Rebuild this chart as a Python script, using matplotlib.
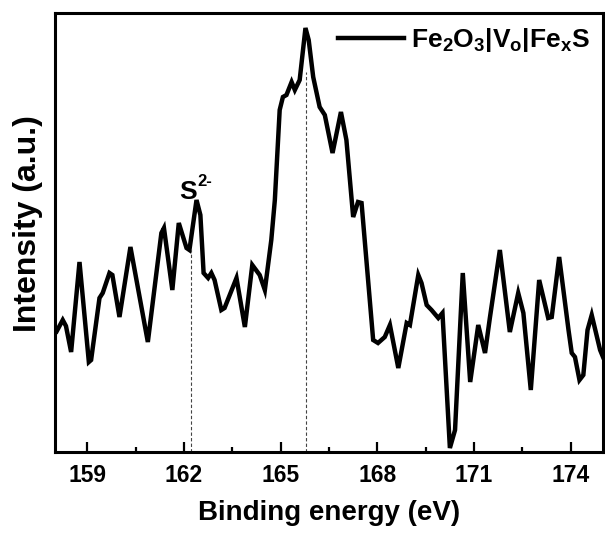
"""S 2p XPS spectrum of Fe2O3|Vo|FexS with the S2- and main peak positions marked."""
import matplotlib
matplotlib.use("Agg")
import matplotlib.pyplot as plt
from matplotlib.ticker import MultipleLocator

plt.rcParams["font.family"] = ["Liberation Sans", "DejaVu Sans"]
plt.rcParams["font.weight"] = "bold"
plt.rcParams["mathtext.fontset"] = "custom"
plt.rcParams["mathtext.rm"] = "Liberation Sans:bold"
plt.rcParams["mathtext.it"] = "Liberation Sans:bold"
plt.rcParams["mathtext.bf"] = "Liberation Sans:bold"
plt.rcParams["mathtext.default"] = "rm"

# binding energy (eV) and intensity (a.u.)
energy = [
    158.00, 158.04, 158.24, 158.34, 158.50, 158.76, 159.05, 159.12, 159.38, 159.48,
    159.69, 159.78, 160.00, 160.34, 160.88, 161.30, 161.38, 161.64, 161.84, 162.08,
    162.17, 162.39, 162.51, 162.61, 162.75, 162.85, 162.95, 163.16, 163.26, 163.63,
    163.89, 164.12, 164.35, 164.51, 164.71, 164.82, 164.97, 165.07, 165.18, 165.34,
    165.44, 165.59, 165.77, 165.87, 166.01, 166.21, 166.37, 166.61, 166.87, 167.04,
    167.25, 167.40, 167.51, 167.87, 168.02, 168.23, 168.39, 168.65, 168.91, 169.01,
    169.27, 169.37, 169.53, 169.68, 169.89, 170.02, 170.25, 170.41, 170.65, 170.88,
    171.13, 171.34, 171.49, 171.80, 172.11, 172.37, 172.53, 172.76, 173.02, 173.30,
    173.41, 173.64, 173.93, 174.03, 174.13, 174.27, 174.39, 174.52, 174.65, 174.91,
    175.00,
]
intensity = [
    120, 120, 132, 126, 100, 190, 90, 92, 154, 159,
    179, 177, 135, 205, 110, 219, 224, 162, 229, 204,
    202, 252, 237, 179, 174, 179, 172, 142, 144, 174,
    125, 187, 177, 162, 212, 252, 342, 355, 357, 370,
    362, 372, 424, 412, 375, 345, 337, 299, 340, 312,
    235, 250, 249, 112, 109, 115, 127, 84, 129, 127,
    177, 169, 147, 142, 134, 139, 4, 22, 179, 70,
    127, 99, 134, 202, 120, 159, 139, 62, 172, 134,
    135, 195, 122, 99, 95, 72, 77, 122, 137, 102,
    95,
]

# marked peak positions (eV) and the height the guide lines reach
marker_energy = [162.23, 165.78]
marker_top = [204, 380]
s_label_pos = (161.86, 253)

fig = plt.figure(figsize=(6.05, 5.39), dpi=100)
ax = fig.add_axes([55 / 605, 1 - 452 / 539, 548 / 605, 439 / 539])

ax.plot(energy, intensity, color="black", linewidth=3.2,
        solid_joinstyle="miter", label=r"Fe$_2$O$_3$|V$_o$|Fe$_x$S")
ax.vlines(marker_energy, 0, marker_top, colors="#444444",
          linewidth=0.8, linestyles=(0, (3, 2)))

# S2- label: plain hyphen in the superscript, so it is set as two texts
ax.text(*s_label_pos, "S", fontsize=19, fontweight="bold",
        ha="left", va="baseline")
ax.annotate("2-", xy=s_label_pos, xytext=(13, 9), textcoords="offset points",
            fontsize=12, fontweight="bold", ha="left", va="baseline")

ax.set_xlim(158, 175)
ax.set_ylim(0, 439)
ax.xaxis.set_minor_locator(MultipleLocator(1.5))
ax.set_xticks([159, 162, 165, 168, 171, 174])
ax.set_yticks([])
ax.tick_params(axis="x", which="major", direction="in", length=7, width=1.6,
               labelsize=16.5, pad=9)
ax.tick_params(axis="x", which="minor", direction="in", length=3.5, width=1.6)
ax.tick_params(top=False, right=False)
for s in ax.spines.values():
    s.set_linewidth(2.2)

ax.set_xlabel("Binding energy (eV)", fontsize=20, fontweight="bold", labelpad=9)
ax.set_ylabel("Intensity (a.u.)", fontsize=23, fontweight="bold")
ax.yaxis.set_label_coords(-0.022, 0.52)

ax.legend(loc="upper right", frameon=False, fontsize=19, handlelength=2.5,
          handletextpad=0.25, borderaxespad=0.1)

fig.savefig("out.png", dpi=100)
